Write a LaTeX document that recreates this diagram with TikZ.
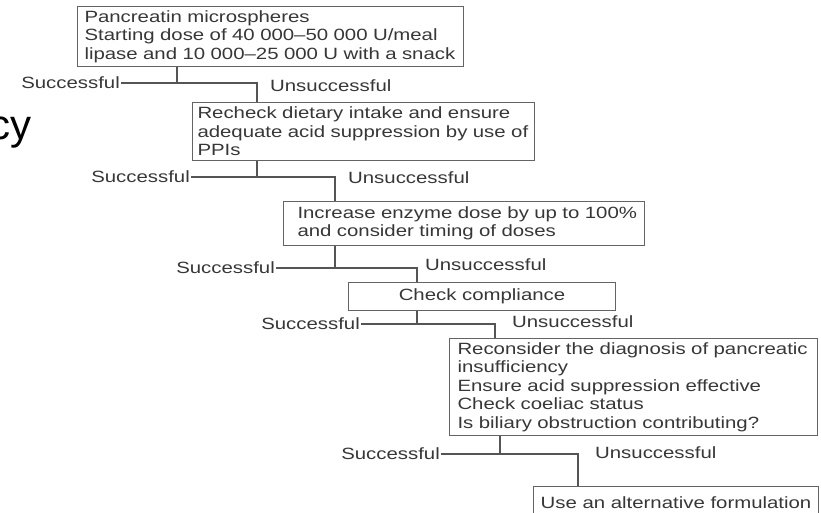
\documentclass[tikz,border=0pt]{standalone}
\usepackage{fontspec}
\setmainfont{Liberation Sans}[FakeStretch=1.25]
\newfontfamily\bigfont{Liberation Sans}
\definecolor{txtc}{RGB}{55,55,55}
\definecolor{linec}{RGB}{85,85,85}
\definecolor{boxc}{RGB}{100,100,100}
\begin{document}
\begin{tikzpicture}[x=1pt,y=-1pt,
  boxnode/.style={draw=boxc, line width=1pt, anchor=north west, align=left, text=txtc,
    inner ysep=0pt, font=\fontsize{16.3}{18.5}\selectfont},
  lbl/.style={text=txtc, inner sep=1pt, font=\fontsize{16.3}{18.5}\selectfont},
  conn/.style={draw=linec, line width=1.1pt}]
\useasboundingbox (0,0) rectangle (821,513);
\clip (0,0) rectangle (821,513);
\fill[white] (0,0) rectangle (821,513);

% slide fragment
\node[anchor=base east, inner sep=0pt, text=black, font=\bigfont\fontsize{42}{44}\selectfont] (cy) at (32,140) {cy};

% boxes
\node[boxnode, inner xsep=7pt, text width=372pt, minimum height=60pt] (b1) at (77,6)
  {\mbox{Pancreatin microspheres}\\\mbox{Starting dose of 40 000–50 000 U/meal}\\\mbox{lipase and 10 000–25 000 U with a snack}};
\node[boxnode, inner xsep=5pt, text width=332pt, minimum height=58pt] (b2) at (192,102)
  {\mbox{Recheck dietary intake and ensure}\\\mbox{adequate acid suppression by use of}\\\mbox{PPIs}};
\node[boxnode, inner xsep=14pt, text width=333pt, minimum height=44pt] (b3) at (283,201)
  {\mbox{Increase enzyme dose by up to 100\%}\\\mbox{and consider timing of doses}};
\node[boxnode, align=center, minimum width=267pt, minimum height=28pt] (b4) at (348,282)
  {Check compliance};
\node[boxnode, inner xsep=8pt, text width=352pt, minimum height=97pt] (b5) at (449,338)
  {\mbox{Reconsider the diagnosis of pancreatic}\\\mbox{insufficiency}\\\mbox{Ensure acid suppression effective}\\\mbox{Check coeliac status}\\\mbox{Is biliary obstruction contributing?}};
\node[boxnode, align=center, minimum width=285pt, minimum height=32pt] (b6) at (533,486)
  {Use an alternative formulation};

% level 1
\coordinate (j1) at (177,83); \coordinate (d1) at (257,83);
\node[lbl, anchor=east] (s1) at (121,83) {Successful};
\node[lbl, anchor=west] (u1) at (269,86) {Unsuccessful};
\draw[conn] (b1.south -| j1) -- (j1);
\draw[conn] (s1.east) -- (d1) -- (d1 |- b2.north);

% level 2
\coordinate (j2) at (257,177); \coordinate (d2) at (335,177);
\node[lbl, anchor=east] (s2) at (191,177) {Successful};
\node[lbl, anchor=west] (u2) at (347,178) {Unsuccessful};
\draw[conn] (b2.south -| j2) -- (j2);
\draw[conn] (s2.east) -- (d2) -- (d2 |- b3.north);

% level 3
\coordinate (j3) at (335,268); \coordinate (d3) at (417,268);
\node[lbl, anchor=east] (s3) at (276,268) {Successful};
\node[lbl, anchor=west] (u3) at (424,265) {Unsuccessful};
\draw[conn] (b3.south -| j3) -- (j3);
\draw[conn] (s3.east) -- (d3) -- (d3 |- b4.north);

% level 4
\coordinate (j4) at (417,324); \coordinate (d4) at (495,324);
\node[lbl, anchor=east] (s4) at (361,324) {Successful};
\node[lbl, anchor=west] (u4) at (511,322) {Unsuccessful};
\draw[conn] (b4.south -| j4) -- (j4);
\draw[conn] (s4.east) -- (d4) -- (d4 |- b5.north);

% level 5
\coordinate (j5) at (500,454); \coordinate (d5) at (578,454);
\node[lbl, anchor=east] (s5) at (441,454) {Successful};
\node[lbl, anchor=west] (u5) at (594,453) {Unsuccessful};
\draw[conn] (b5.south -| j5) -- (j5);
\draw[conn] (s5.east) -- (d5) -- (d5 |- b6.north);
\end{tikzpicture}
\end{document}
